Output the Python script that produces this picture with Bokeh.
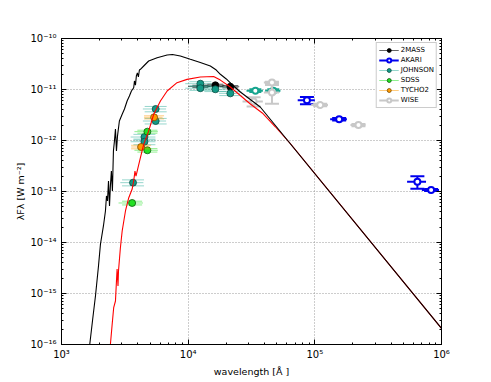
from bokeh.plotting import figure
from bokeh.models import (Range1d, FixedTicker, CustomJSTickFormatter, LogAxis,
                          Legend, LegendItem, ColumnDataSource)
from bokeh.embed import file_html
from bokeh.resources import INLINE

# ---------------- model curves (wavelength [A], lambda F_lambda [W m^-2]) ----------------
star_wl = [1671, 1756, 1854, 1959, 2030, 2143, 2223, 2265, 2307, 2350, 2393, 2432, 2477,
           2523, 2570, 2618, 2667, 2716, 2767, 2864, 3013, 3141, 3296, 3436, 3565, 3715,
           3767, 3837, 3899, 3972, 4046, 4121, 4198, 4457, 4875, 5689, 6823, 7516, 8670,
           10400, 12470, 14960, 16670, 17950, 20000, 22860, 25820, 29850, 37070, 1000000]
star_flux = [1.0e-16, 2.89e-16, 8.93e-16, 3.46e-15, 9.23e-15, 2.11e-14, 4.15e-14, 8.17e-14,
             6.52e-14, 1.61e-13, 5.2e-14, 1.28e-13, 2.52e-13, 1.02e-13, 6.22e-13, 9.77e-13,
             1.68e-12, 6.22e-13, 1.22e-12, 2.41e-12, 3.27e-12, 4.15e-12, 5.96e-12, 7.46e-12,
             9.35e-12, 1.08e-11, 1.47e-11, 1.22e-11, 1.84e-11, 2.11e-11, 1.76e-11, 2.41e-11,
             2.49e-11, 2.89e-11, 3.62e-11, 4.21e-11, 4.74e-11, 4.85e-11, 4.54e-11, 3.91e-11,
             3.38e-11, 2.89e-11, 2.41e-11, 1.99e-11, 1.61e-11, 1.17e-11, 8.93e-12, 6.81e-12,
             4.54e-12, 2.08e-16]

red_wl = [2432, 2512, 2582, 2667, 2716, 2748, 2793, 2818, 2917, 3013, 3199, 3396, 3614,
          3733, 3802, 3873, 4198, 4457, 4875, 5346, 6039, 6823, 8166, 9795, 12470, 15890,
          17950, 21530, 25820, 30970, 38460, 48750, 63970, 1000000]
red_flux = [1.0e-16, 2.49e-16, 5.27e-16, 7.13e-16, 1.76e-15, 3.02e-15, 1.40e-15, 2.76e-15,
            7.91e-15, 1.68e-14, 4.15e-14, 7.55e-14, 1.12e-13, 1.76e-13, 2.52e-13, 2.01e-13,
            4.6e-13, 8.41e-13, 1.53e-12, 3.27e-12, 5.96e-12, 9.35e-12, 1.36e-11, 1.58e-11,
            1.76e-11, 1.80e-11, 1.53e-11, 1.12e-11, 7.62e-12, 5.2e-12, 3.47e-12, 1.86e-12,
            8.73e-13, 2.08e-16]

# ---------------- photometry ----------------
twomass_wl = [12480, 16390, 21520]
twomass_flux = [1.15e-11, 1.21e-11, 1.135e-11]
twomass_wl_err = [2500, 3000, 3800]
twomass_flux_err = [6e-13, 6e-13, 6e-13]

akari_wl = [86650, 155600, 645000, 828000]
akari_flux = [6.14e-12, 2.61e-12, 1.56e-13, 1.07e-13]
akari_wl_err = [13400, 23500, 110000, 128000]
akari_flux_err = [1.0e-12, 1.5e-13, 4.3e-14, 5e-15]

johnson_wl = [3670, 4515, 4515, 5540, 5540, 12480, 12480, 16390, 21520]
johnson_flux = [1.49e-13, 1.17e-12, 9.46e-13, 4.15e-12, 2.41e-12, 1.30e-11, 1.06e-11,
                1.01e-11, 8.4e-12]
johnson_wl_err = [760, 1000, 1000, 1150, 1150, 3000, 3000, 3500, 4000]
johnson_flux_err = [2e-14, 1.5e-13, 1.2e-13, 5e-13, 3e-13, 1.2e-12, 1e-12, 1e-12, 8e-13]

johnson_excl_wl = [33900, 47000]
johnson_excl_flux = [9.5e-12, 9.5e-12]
johnson_excl_wl_err = [5000, 6500]
johnson_excl_flux_err = [6e-13, 6e-13]

sdss_wl = [3610, 4765, 4765]
sdss_flux = [5.95e-14, 1.49e-12, 6.43e-13]
sdss_wl_err = [790, 1000, 1000]
sdss_flux_err = [5e-15, 1e-13, 5e-14]

tycho_wl = [4250, 5380]
tycho_flux = [7.46e-13, 2.85e-12]
tycho_wl_err = [700, 900]
tycho_flux_err = [6e-14, 2e-13]

wise_wl = [32860, 45890, 45890, 110300, 221000]
wise_flux = [5.82e-12, 1.37e-11, 8.73e-12, 4.97e-12, 2.01e-12]
wise_wl_err = [6000, 6300, 6300, 16700, 30000]
wise_flux_err = [1.2e-12, 5e-13, 3.5e-12, 3e-13, 1e-13]

# ---------------- ticks ----------------
x_ticks = [1e3, 1e4, 1e5, 1e6]
x_tick_labels = ["10³", "10⁴", "10⁵", "10⁶"]
y_ticks = [1e-16, 1e-15, 1e-14, 1e-13, 1e-12, 1e-11, 1e-10]
y_tick_labels = ["10⁻¹⁶", "10⁻¹⁵", "10⁻¹⁴", "10⁻¹³", "10⁻¹²", "10⁻¹¹", "10⁻¹⁰"]

FONT = "DejaVu Sans"

p = figure(x_axis_type="log", y_axis_type="log",
           x_range=Range1d(1e3, 1e6), y_range=Range1d(1e-16, 1e-10),
           frame_width=380, frame_height=306,
           min_border_left=61, min_border_right=42, min_border_top=38, min_border_bottom=36,
           output_backend="svg", toolbar_location=None)
p.background_fill_color = "white"
p.border_fill_color = "white"
p.outline_line_color = "black"
p.outline_line_width = 1

def minor_list(ticks):
    out = []
    for t in ticks[:-1]:
        for m in range(2, 10):
            out.append(t * m)
    return out

fmt_code = """
let best = 0;
const lt = Math.log10(tick);
for (let i = 0; i < tvals.length; i++) {
  if (Math.abs(Math.log10(tvals[i]) - lt) < Math.abs(Math.log10(tvals[best]) - lt)) best = i;
}
return tlabels[best];
"""
xfmt = CustomJSTickFormatter(args=dict(tvals=x_ticks, tlabels=x_tick_labels), code=fmt_code)
yfmt = CustomJSTickFormatter(args=dict(tvals=y_ticks, tlabels=y_tick_labels), code=fmt_code)
blank = CustomJSTickFormatter(code="return '';")

xt = FixedTicker(ticks=x_ticks, minor_ticks=minor_list(x_ticks))
yt = FixedTicker(ticks=y_ticks, minor_ticks=minor_list(y_ticks))

def style_axis(ax):
    ax.major_tick_in = 5
    ax.major_tick_out = 0
    ax.minor_tick_in = 2
    ax.minor_tick_out = 0
    ax.axis_line_color = "black"
    ax.major_tick_line_color = "black"
    ax.minor_tick_line_color = "black"
    ax.major_label_text_font = FONT
    ax.major_label_text_font_size = "10px"
    ax.major_label_text_color = "black"
    ax.axis_label_text_font = FONT
    ax.axis_label_text_font_size = "9.5px"
    ax.axis_label_text_font_style = "normal"
    ax.axis_label_text_color = "black"

xa = p.xaxis[0]
xa.ticker = xt
xa.formatter = xfmt
xa.axis_label = "wavelength [Å ]"
style_axis(xa)
xa.major_label_standoff = 4
xa.axis_label_standoff = 3

ya = p.yaxis[0]
ya.ticker = yt
ya.formatter = yfmt
ya.axis_label = "λFλ [W m⁻²]"
style_axis(ya)
ya.major_label_standoff = 5
ya.axis_label_standoff = 1

ra = LogAxis(ticker=yt, formatter=blank)
style_axis(ra)
ra.major_label_standoff = 0
p.add_layout(ra, "right")
ta = LogAxis(ticker=xt, formatter=blank)
style_axis(ta)
ta.major_label_standoff = 0
p.add_layout(ta, "above")

p.xgrid.ticker = xt
p.ygrid.ticker = yt
for g in (p.xgrid[0], p.ygrid[0]):
    g.grid_line_color = "#9a9a9a"
    g.grid_line_dash = "1 2"
    g.grid_line_width = 1

def photometry(wl, fl, wle, fle, color, err_alpha, err_width, cap, fill, line, lw, size):
    src = ColumnDataSource(dict(
        x=wl, y=fl,
        x0=[w - e for w, e in zip(wl, wle)], x1=[w + e for w, e in zip(wl, wle)],
        y0=[f - e for f, e in zip(fl, fle)], y1=[f + e for f, e in zip(fl, fle)]))
    rx = p.segment(x0="x0", y0="y", x1="x1", y1="y", source=src, line_color=color,
                   line_alpha=err_alpha, line_width=err_width)
    p.segment(x0="x", y0="y0", x1="x", y1="y1", source=src, line_color=color,
              line_alpha=err_alpha, line_width=err_width)
    p.scatter(x="x", y="y0", source=src, marker="dash", size=cap, line_color=color,
              line_alpha=err_alpha, line_width=err_width)
    p.scatter(x="x", y="y1", source=src, marker="dash", size=cap, line_color=color,
              line_alpha=err_alpha, line_width=err_width)
    rm = p.scatter(x="x", y="y", source=src, marker="circle", size=size,
                   fill_color=fill, line_color=line, line_width=lw)
    return rx, rm

r_2m = photometry(twomass_wl, twomass_flux, twomass_wl_err, twomass_flux_err,
                  "black", 0.6, 1, 16, "black", "black", 0.8, 7)
r_ak = photometry(akari_wl, akari_flux, akari_wl_err, akari_flux_err,
                  "#0000ee", 1.0, 2, 14, "white", "#0000ee", 2, 6)
r_jo = photometry(johnson_wl, johnson_flux, johnson_wl_err, johnson_flux_err,
                  "#17a58f", 0.45, 1, 22, "#129a86", "#0b4d44", 0.8, 7)
photometry(johnson_excl_wl, johnson_excl_flux, johnson_excl_wl_err, johnson_excl_flux_err,
           "#17a58f", 1.0, 2, 12, "white", "#17a58f", 2, 6)
r_sd = photometry(sdss_wl, sdss_flux, sdss_wl_err, sdss_flux_err,
                  "#22e022", 0.5, 1, 20, "#22e022", "#0d5a0d", 0.8, 7)
r_ty = photometry(tycho_wl, tycho_flux, tycho_wl_err, tycho_flux_err,
                  "#ff9a00", 0.5, 1, 20, "#ff9a00", "#7a4a00", 0.8, 7)
r_wi = photometry(wise_wl, wise_flux, wise_wl_err, wise_flux_err,
                  "#c8c8c8", 1.0, 2, 14, "white", "#c8c8c8", 2, 6)

p.line(red_wl, red_flux, line_color="red", line_width=1.1)
p.line(star_wl, star_flux, line_color="black", line_width=1.1)

legend = Legend(items=[
    LegendItem(label="2MASS", renderers=list(r_2m)),
    LegendItem(label="AKARI", renderers=list(r_ak)),
    LegendItem(label="JOHNSON", renderers=list(r_jo)),
    LegendItem(label="SDSS", renderers=list(r_sd)),
    LegendItem(label="TYCHO2", renderers=list(r_ty)),
    LegendItem(label="WISE", renderers=list(r_wi)),
])
legend.location = "top_right"
legend.margin = 4
legend.padding = 2
legend.spacing = 0
legend.label_height = 10
legend.glyph_height = 10
legend.glyph_width = 20
legend.label_standoff = 2
legend.label_text_font = FONT
legend.label_text_font_size = "7px"
legend.label_text_color = "black"
legend.border_line_color = "#999999"
legend.border_line_width = 1.5
legend.background_fill_color = "white"
legend.background_fill_alpha = 1
p.add_layout(legend)

open("out.html", "w").write(file_html(p, INLINE))
